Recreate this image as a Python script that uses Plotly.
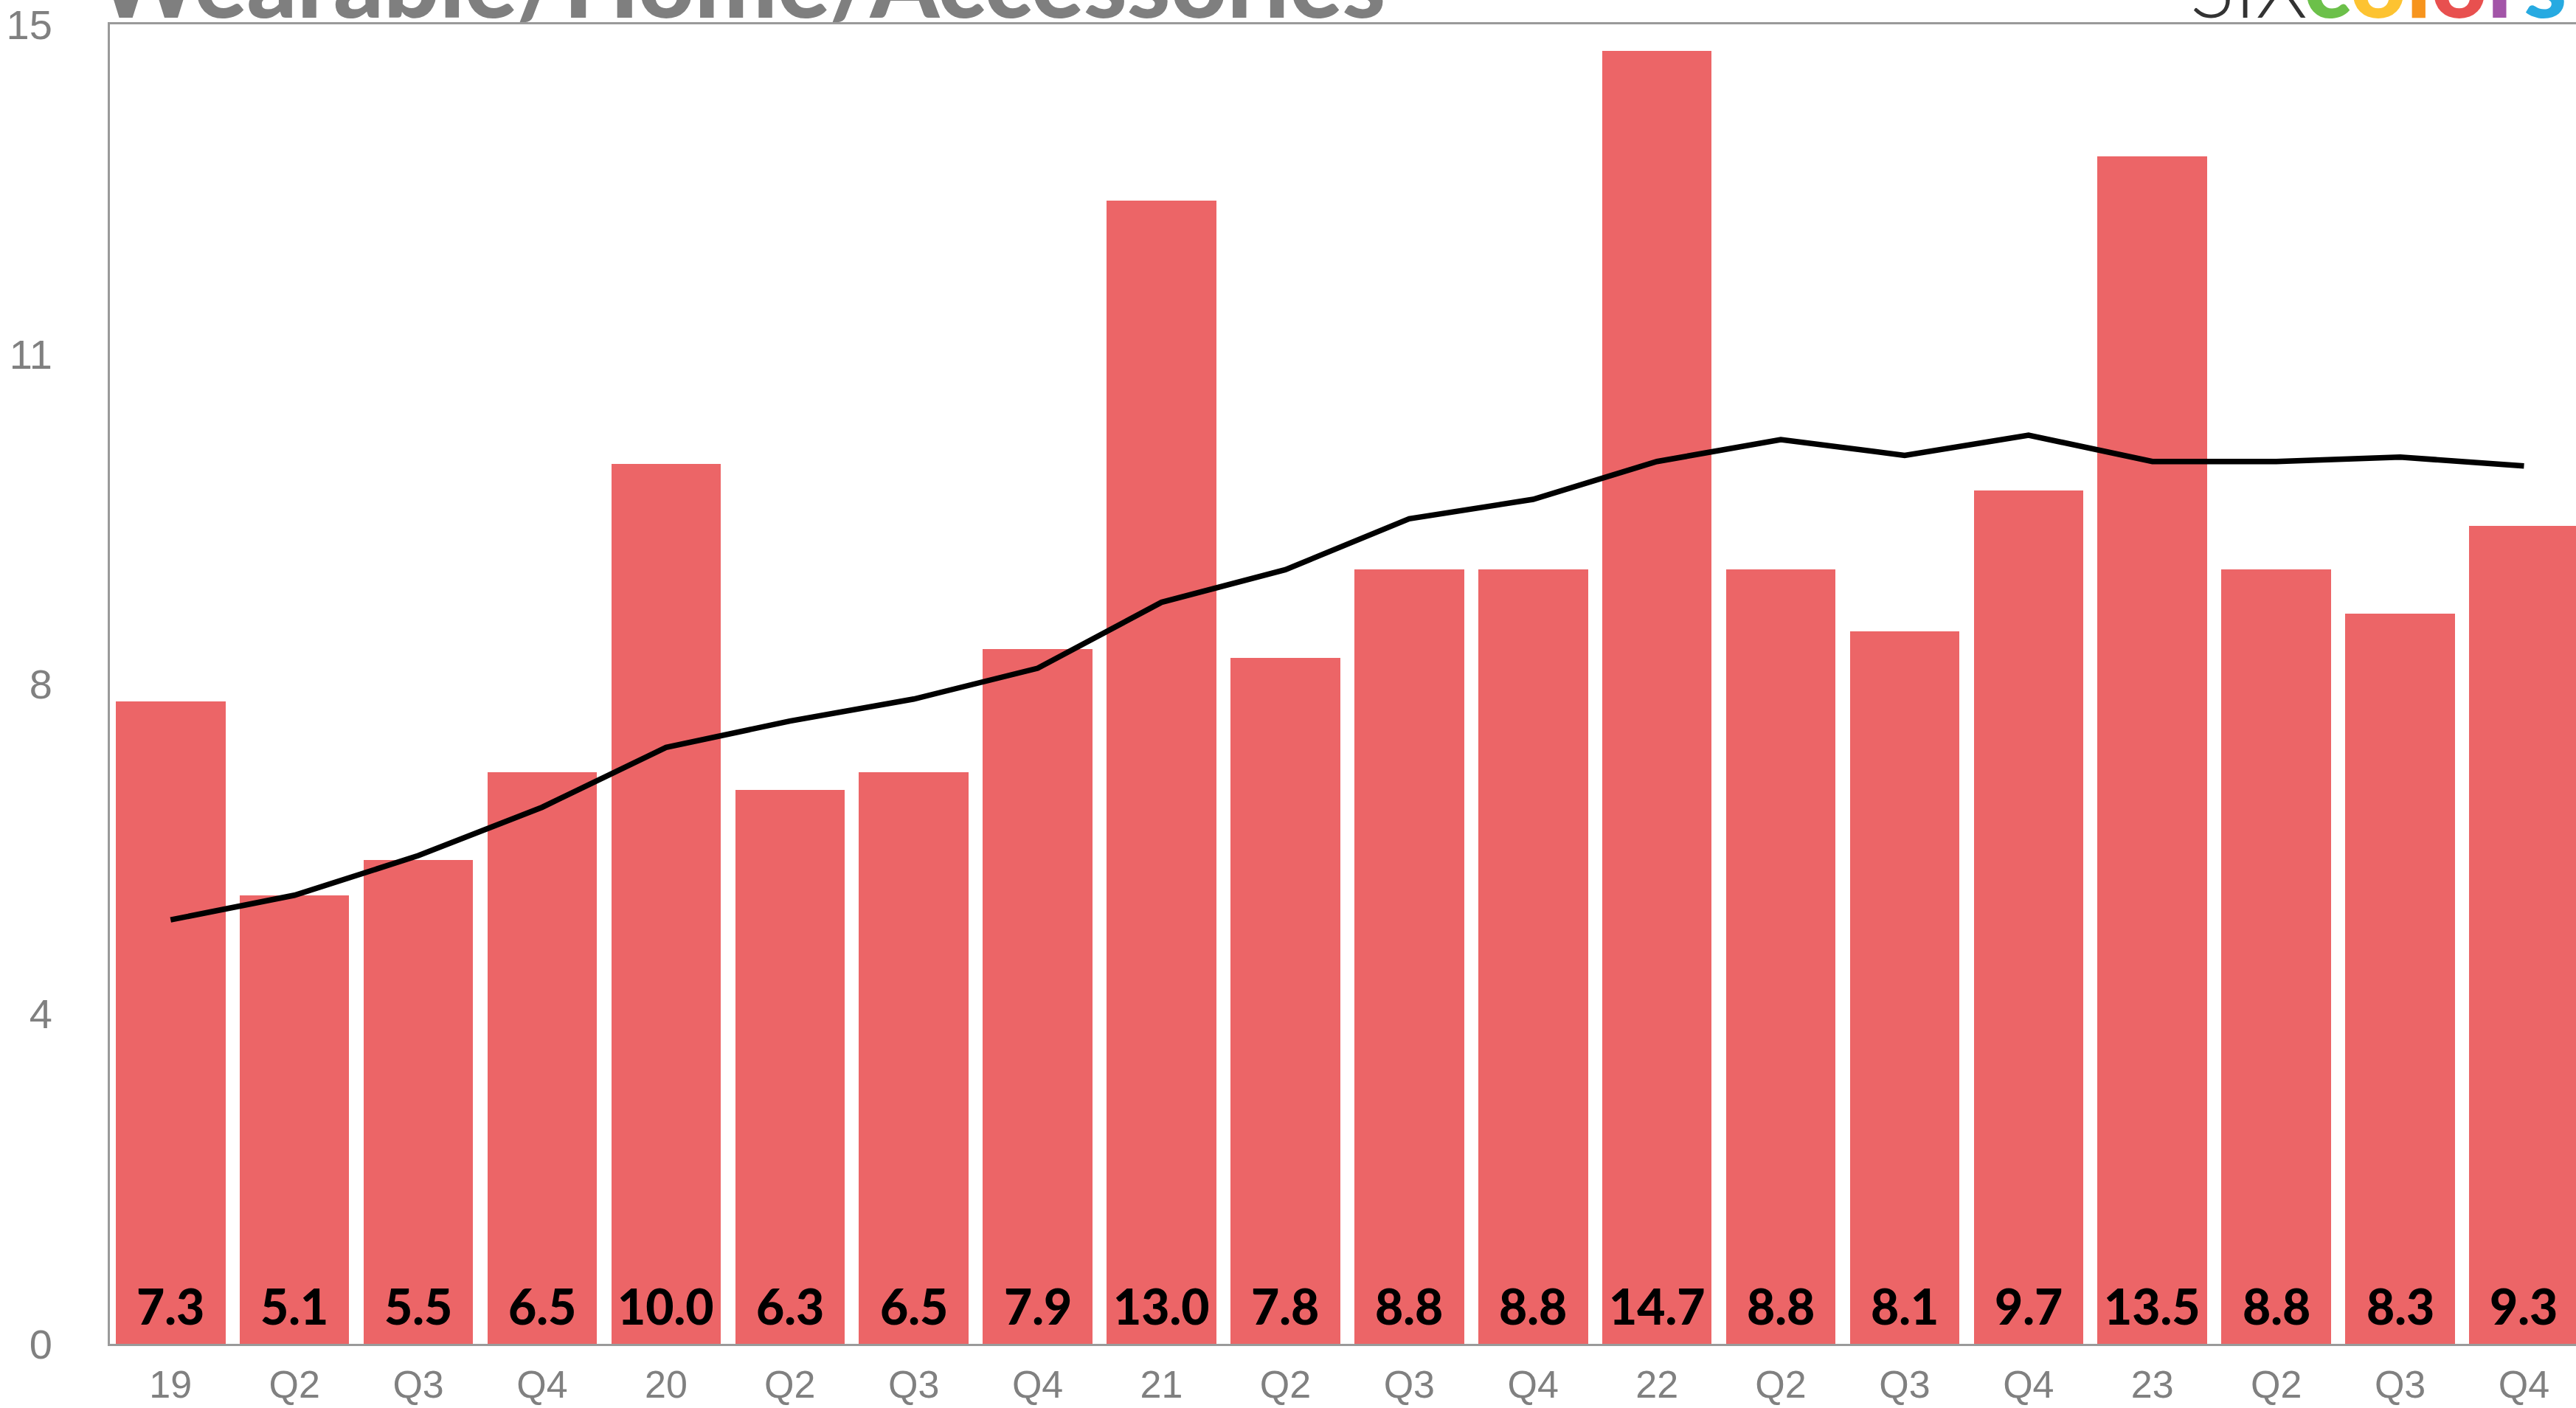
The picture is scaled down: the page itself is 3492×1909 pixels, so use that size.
import plotly.graph_objects as go

# Wearable/Home/Accessories revenue by quarter ($B)
quarters = ['19', 'Q2', 'Q3', 'Q4', '20', 'Q2', 'Q3', 'Q4', '21', 'Q2', 'Q3', 'Q4',
            '22', 'Q2', 'Q3', 'Q4', '23', 'Q2', 'Q3', 'Q4']
revenue = [7.3, 5.1, 5.5, 6.5, 10.0, 6.3, 6.5, 7.9, 13.0, 7.8, 8.8, 8.8,
           14.7, 8.8, 8.1, 9.7, 13.5, 8.8, 8.3, 9.3]
# trailing four-quarter average
trailing_avg = [4.82, 5.10, 5.55, 6.10, 6.78, 7.08, 7.33, 7.68, 8.43, 8.80, 9.38, 9.60,
                10.03, 10.28, 10.10, 10.33, 10.03, 10.03, 10.08, 9.98]
y_ticks = [0, 3.75, 7.5, 11.25, 15]
y_tick_labels = ['0', '4', '8', '11', '15']

title_text = 'Wearable/Home/Accessories'
logo_letters = ['c', 'o', 'l', 'o', 'r', 's']
logo_colors = ['#6cc04a', '#fdc331', '#f7941d', '#e8504f', '#a355a8', '#27aae1']

x = list(range(len(quarters)))

fig = go.Figure()

fig.add_trace(go.Bar(
    x=x,
    y=revenue,
    width=0.885,
    marker=dict(color='#ec6567', line=dict(width=0)),
    hoverinfo='skip',
))

fig.add_trace(go.Scatter(
    x=x,
    y=trailing_avg,
    mode='lines',
    line=dict(color='#000000', width=7.5),
    hoverinfo='skip',
))

# value labels sitting at the foot of each bar
for i, v in enumerate(revenue):
    fig.add_annotation(
        x=i, y=0, xref='x', yref='y',
        text=f'{v:.1f}',
        showarrow=False,
        yanchor='bottom',
        yshift=10,
        font=dict(family='Lato', size=66, color='#000000', weight=900),
    )

# title, cut off by the top of the image
fig.add_annotation(
    x=-0.006, y=1.0, xref='paper', yref='paper',
    text=title_text,
    showarrow=False,
    xanchor='left', yanchor='bottom',
    yshift=-21,
    font=dict(family='Lato', size=133, color='#7f7f7f', weight=900),
)

# SIX colors logo, also cut off
fig.add_annotation(
    x=0.843, y=1.0, xref='paper', yref='paper',
    text='SIX',
    showarrow=False,
    xanchor='left', yanchor='bottom',
    yshift=-17,
    font=dict(family='Lato', size=112, color='#333333', weight=300),
)
logo_colored = ''.join(
    f"<span style='color:{c}'>{l}</span>" for l, c in zip(logo_letters, logo_colors))
fig.add_annotation(
    x=0.889, y=1.0, xref='paper', yref='paper',
    text=logo_colored,
    showarrow=False,
    xanchor='left', yanchor='bottom',
    yshift=-21,
    font=dict(family='Lato', size=132, color='#333333', weight=900),
)

fig.update_layout(
    width=3492,
    height=1909,
    margin=dict(l=149, r=0, t=33, b=87),
    paper_bgcolor='white',
    plot_bgcolor='white',
    showlegend=False,
    bargap=0,
    xaxis=dict(
        range=[-0.49, 19.42],
        tickmode='array',
        tickvals=x,
        ticktext=quarters,
        showgrid=False,
        zeroline=False,
        showline=True,
        mirror=True,
        linecolor='#9a9a9a',
        linewidth=3,
        ticks='outside',
        ticklen=8,
        tickcolor='rgba(0,0,0,0)',
        tickfont=dict(family='Liberation Sans', size=52, color='#808080'),
        automargin=False,
    ),
    yaxis=dict(
        range=[0, 15],
        tickmode='array',
        tickvals=y_ticks,
        ticktext=y_tick_labels,
        showgrid=False,
        zeroline=False,
        showline=True,
        mirror=True,
        linecolor='#9a9a9a',
        linewidth=3,
        ticks='outside',
        ticklen=64,
        tickcolor='rgba(0,0,0,0)',
        tickfont=dict(family='Liberation Sans', size=56, color='#808080'),
        automargin=False,
    ),
)

# drop the browser's default body margin so the figure sits at the page corner
fig.write_html('out.html', config={'displayModeBar': False},
               post_script="document.body.style.margin = '0';")
